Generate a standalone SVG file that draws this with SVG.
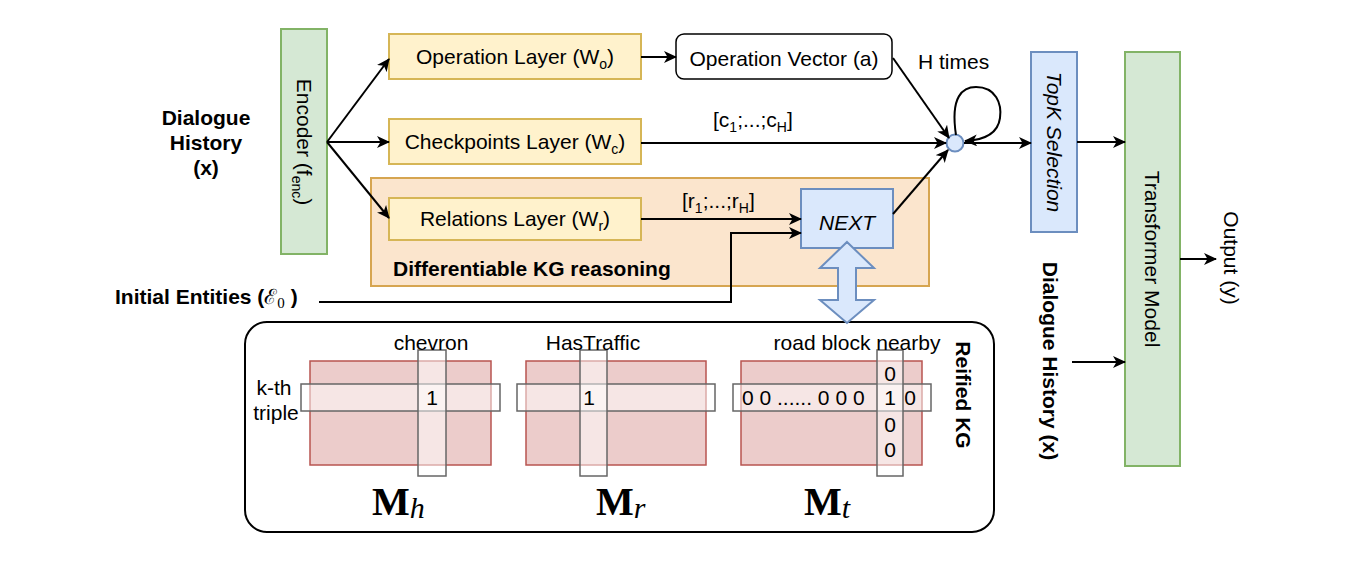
<svg xmlns="http://www.w3.org/2000/svg" width="1372" height="566" viewBox="0 0 1372 566">
<defs>
<marker id="arr" markerWidth="13" markerHeight="12" refX="12" refY="6" orient="auto" markerUnits="userSpaceOnUse">
<path d="M0,0 L13,6 L0,12 L3.5,6 z" fill="#000"/>
</marker>
<style>
text{font-family:"Liberation Sans",Arial,sans-serif;font-size:21px;fill:#000}
.b{font-weight:bold}
.i{font-style:italic}
.sub{font-size:14px}
.yel{fill:#fff2cc;stroke:#d6b656;stroke-width:2}
.grn{fill:#d5e8d4;stroke:#82b366;stroke-width:2}
.blu{fill:#dae8fc;stroke:#6c8ebf;stroke-width:2}
.red{fill:#eccccb;stroke:#b85450;stroke-width:1.5}
.strip{fill:#ffffff;fill-opacity:0.5;stroke:#666;stroke-width:1.5}
.ln{fill:none;stroke:#000;stroke-width:2}
.M{font-family:"Liberation Serif","Times New Roman",serif;font-weight:bold;font-size:40px}
.Ms{font-family:"Liberation Serif","Times New Roman",serif;font-style:italic;font-weight:normal;font-size:30px}
</style>
</defs>
<rect width="1372" height="566" fill="#fff"/>

<g id="dialogue-history-left">
<text class="b" x="206" y="125" text-anchor="middle">Dialogue</text>
<text class="b" x="206" y="150" text-anchor="middle">History</text>
<text class="b" x="206" y="175" text-anchor="middle">(x)</text>
</g>

<g id="initial-entities">
<text class="b" x="115" y="304">Initial Entities (<tspan font-family="DejaVu Serif, serif" font-weight="normal">ℰ</tspan><tspan font-family="Liberation Serif, serif" font-weight="normal" font-size="15px" dy="4">0</tspan><tspan dy="-4"> )</tspan></text>
</g>

<g id="kg-reasoning">
<rect x="371" y="178" width="558" height="108" fill="#fbe5cd" stroke="#d6a550" stroke-width="2"/>
<text class="b" x="393" y="276">Differentiable KG reasoning</text>
</g>

<g id="encoder">
<rect class="grn" x="281" y="29" width="46" height="225"/>
<text transform="translate(304,142) rotate(90)" y="7" text-anchor="middle">Encoder (f<tspan class="sub" dy="5">enc</tspan><tspan dy="-5">)</tspan></text>
</g>

<g id="operation-layer">
<rect class="yel" x="389" y="34" width="252" height="45"/>
<text x="515" y="64" text-anchor="middle">Operation Layer (W<tspan class="sub" dy="5">o</tspan><tspan dy="-5">)</tspan></text>
</g>

<g id="checkpoints-layer">
<rect class="yel" x="389" y="119" width="252" height="45"/>
<text x="515" y="149" text-anchor="middle">Checkpoints Layer (W<tspan class="sub" dy="5">c</tspan><tspan dy="-5">)</tspan></text>
</g>

<g id="relations-layer">
<rect class="yel" x="389" y="198" width="252" height="42"/>
<text x="515" y="226" text-anchor="middle">Relations Layer (W<tspan class="sub" dy="5">r</tspan><tspan dy="-5">)</tspan></text>
</g>

<g id="operation-vector">
<rect x="676" y="34" width="216" height="45" rx="8" fill="#fff" stroke="#000" stroke-width="1.5"/>
<text x="784" y="66" text-anchor="middle">Operation Vector (a)</text>
</g>

<g id="next">
<rect class="blu" x="801" y="189" width="92" height="59"/>
<text class="i" x="847" y="230" text-anchor="middle">NEXT</text>
</g>

<g id="combine">
<circle class="blu" cx="955" cy="143" r="8.5" stroke-width="1.5"/>
</g>

<g id="topk">
<rect class="blu" x="1031" y="52" width="46" height="180"/>
<text class="i" transform="translate(1054,142) rotate(90)" y="7" text-anchor="middle">TopK Selection</text>
</g>

<g id="transformer">
<rect class="grn" x="1125" y="52" width="55" height="414"/>
<text transform="translate(1152,259) rotate(90)" y="7" text-anchor="middle">Transformer Model</text>
</g>

<g id="output">
<text transform="translate(1231,258) rotate(90)" y="7" text-anchor="middle">Output (y)</text>
</g>

<g id="dialogue-history-right">
<text class="b" transform="translate(1050,361) rotate(90)" y="7" text-anchor="middle">Dialogue History (x)</text>
</g>

<g id="reified-kg">
<rect x="245" y="322" width="749" height="210" rx="22" fill="#fff" stroke="#000" stroke-width="2"/>
<text class="b" transform="translate(963,395) rotate(90)" y="7" text-anchor="middle">Reified KG</text>
</g>

<g id="matrix-h">
<rect class="red" x="310" y="361" width="181" height="104"/>
<rect class="strip" x="301" y="384" width="199" height="27"/>
<rect class="strip" x="418" y="350" width="28" height="126"/>
<text x="431" y="350" text-anchor="middle">chevron</text>
<text x="432" y="405" text-anchor="middle">1</text>
<text x="274" y="395" text-anchor="middle">k-th</text>
<text x="276" y="420" text-anchor="middle">triple</text>
<text class="M" x="372" y="515">M<tspan class="Ms" dy="3">h</tspan></text>
</g>

<g id="matrix-r">
<rect class="red" x="526" y="361" width="180" height="104"/>
<rect class="strip" x="517" y="384" width="198" height="27"/>
<rect class="strip" x="580" y="350" width="27" height="126"/>
<text x="593" y="350" text-anchor="middle">HasTraffic</text>
<text x="589" y="405" text-anchor="middle">1</text>
<text class="M" x="596" y="515">M<tspan class="Ms" dy="3">r</tspan></text>
</g>

<g id="matrix-t">
<rect class="red" x="741" y="361" width="181" height="104"/>
<rect class="strip" x="733" y="384" width="198" height="27"/>
<rect class="strip" x="877" y="350" width="26" height="126"/>
<text x="857" y="350" text-anchor="middle">road block nearby</text>
<text x="742" y="405">0 0 ...... 0 0 0</text>
<text x="890" y="405" text-anchor="middle">1</text>
<text x="910" y="405" text-anchor="middle">0</text>
<text x="890" y="381" text-anchor="middle">0</text>
<text x="890" y="432" text-anchor="middle">0</text>
<text x="890" y="457" text-anchor="middle">0</text>
<text class="M" x="804" y="515">M<tspan class="Ms" dy="3">t</tspan></text>
</g>

<g id="connectors">
<path class="ln" d="M327,142 L389,59" marker-end="url(#arr)"/>
<path class="ln" d="M327,142 L389,142" marker-end="url(#arr)"/>
<path class="ln" d="M327,142 L389,218" marker-end="url(#arr)"/>
<path class="ln" d="M641,57 L676,57" marker-end="url(#arr)"/>
<path class="ln" d="M893,58 L949,138" marker-end="url(#arr)"/>
<path class="ln" d="M641,143 L946,143" marker-end="url(#arr)"/>
<path class="ln" d="M893,214 L948,150" marker-end="url(#arr)"/>
<path class="ln" d="M641,219 L801,219" marker-end="url(#arr)"/>
<path class="ln" d="M319,302 L731,302 L731,233 L801,233" stroke="#222" marker-end="url(#arr)"/>
<path class="ln" d="M956,135 C950,96 963,87 976,87 C996,87 1002,104 1000,118 C998,133 985,140 965,141" marker-end="url(#arr)"/>
<path class="ln" d="M964,143 L1031,143" marker-end="url(#arr)"/>
<path class="ln" d="M1077,142 L1125,142" marker-end="url(#arr)"/>
<path class="ln" d="M1180,259 L1216,259" marker-end="url(#arr)"/>
<path class="ln" d="M1072,362 L1125,362" marker-end="url(#arr)"/>
<polygon points="847,242 874,268 856,268 856,300 874,300 847,323 820,300 838,300 838,268 820,268" fill="#dae8fc" stroke="#6c8ebf" stroke-width="2"/>
<text x="918" y="69">H times</text>
<text x="713" y="127">[c<tspan class="sub" dy="5">1</tspan><tspan dy="-5">;...;c</tspan><tspan class="sub" dy="5">H</tspan><tspan dy="-5">]</tspan></text>
<text x="682" y="208">[r<tspan class="sub" dy="5">1</tspan><tspan dy="-5">;...;r</tspan><tspan class="sub" dy="5">H</tspan><tspan dy="-5">]</tspan></text>
</g>
</svg>
